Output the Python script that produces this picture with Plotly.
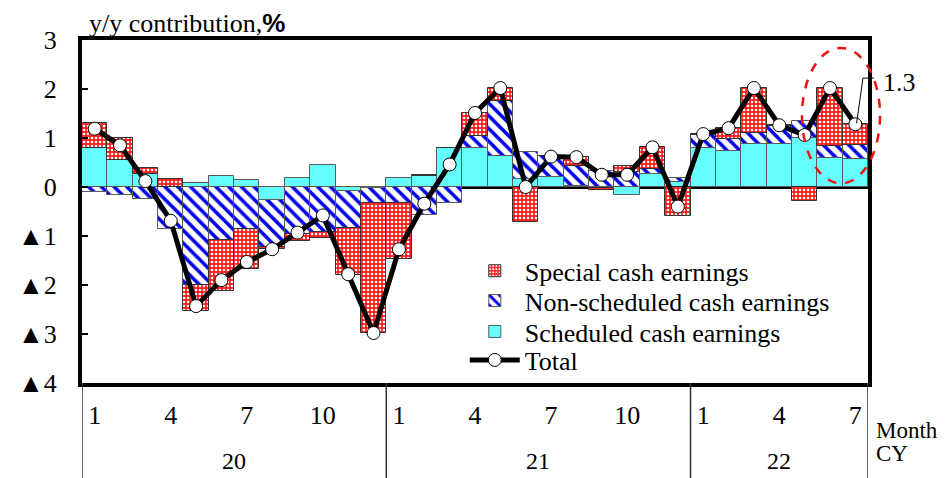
import plotly.graph_objects as go

# ---- data ----
month_idx = list(range(31))  # Jan 2020 .. Jul 2022
month_tick_vals = [0, 3, 6, 9, 12, 15, 18, 21, 24, 27, 30]
month_tick_text = ["1", "4", "7", "10", "1", "4", "7", "10", "1", "4", "7"]
years = ["20", "21", "22"]
y_tick_vals = [-4, -3, -2, -1, 0, 1, 2, 3]
y_tick_text = ["▲4", "▲3", "▲2", "▲1", "0", "1", "2", "3"]

scheduled = [0.80, 0.55, 0.26, 0.00, 0.08, 0.23, 0.14, -0.27, 0.18, 0.45, -0.09, -0.03,
             0.18, 0.23, 0.79, 0.80, 0.63, 0.16, 0.20, 0.02, -0.02, -0.17, 0.27, 0.10,
             0.80, 0.73, 0.87, 0.87, 0.99, 0.60, 0.58]
non_scheduled = [-0.11, -0.16, -0.25, -0.85, -1.99, -1.09, -0.85, -0.95, -0.95, -0.92, -0.74, -0.30,
                 -0.33, -0.57, -0.33, 0.24, 1.12, 0.56, 0.43, 0.41, 0.32, 0.30, 0.10, 0.09,
                 0.26, 0.25, 0.24, 0.38, 0.36, 0.24, 0.27]
special = [0.50, 0.46, 0.12, 0.16, -0.54, -1.04, -0.82, -0.05, -0.16, -0.12, -0.96, -2.65,
           -1.13, 0.01, 0.00, 0.48, 0.27, -0.72, 0.00, 0.18, -0.05, 0.12, 0.44, -0.60,
           0.02, 0.22, 0.92, 0.01, -0.29, 1.19, 0.43]
total = [1.19, 0.85, 0.12, -0.69, -2.43, -1.90, -1.53, -1.27, -0.93, -0.58, -1.78, -2.98,
         -1.27, -0.34, 0.46, 1.51, 2.02, 0.00, 0.62, 0.61, 0.25, 0.25, 0.81, -0.40,
         1.08, 1.20, 2.02, 1.26, 1.06, 2.02, 1.28]
last_label = "1.3"

SERIF = "Liberation Serif, Times New Roman, serif"
FS = 26

fig = go.Figure()

fig.add_trace(go.Bar(
    x=month_idx, y=scheduled, name="Scheduled cash earnings", legend="legend3",
    marker=dict(color="#66ffff", line=dict(color="#5a5a5a", width=1)),
))
fig.add_trace(go.Bar(
    x=month_idx, y=non_scheduled, name="Non-scheduled cash earnings", legend="legend2",
    marker=dict(color="#0000ee", line=dict(color="#5a5a5a", width=1),
                pattern=dict(shape="\\", fillmode="replace", fgcolor="#0000ee",
                             bgcolor="white", size=9, solidity=0.4)),
))
fig.add_trace(go.Bar(
    x=month_idx, y=special, name="Special cash earnings", legend="legend",
    marker=dict(color="#ff1a1a", line=dict(color="#333333", width=1),
                pattern=dict(shape=".", fillmode="replace", fgcolor="white",
                             bgcolor="#ff1a1a", size=4, solidity=0.35)),
))
fig.add_trace(go.Scatter(
    x=month_idx, y=total, name="Total", mode="lines+markers", legend="legend4",
    line=dict(color="black", width=5),
    marker=dict(symbol="circle", size=13, color="white", line=dict(color="black", width=1)),
))

legend_common = dict(x=0.487, xanchor="left", yanchor="middle", bgcolor="rgba(0,0,0,0)",
                     font=dict(family=SERIF, size=FS), itemwidth=50)
fig.update_layout(
    width=952, height=478,
    margin=dict(l=82, r=84, t=40, b=95),
    paper_bgcolor="white", plot_bgcolor="white",
    barmode="relative", bargap=0,
    font=dict(family=SERIF, size=FS, color="black"),
    showlegend=True,
    legend=dict(y=0.327, **legend_common),
    legend2=dict(y=0.240, **legend_common),
    legend3=dict(y=0.150, **legend_common),
    legend4=dict(y=0.067, **legend_common),
)

fig.update_xaxes(
    range=[-0.5, 30.5], tickmode="array", tickvals=month_tick_vals, ticktext=month_tick_text,
    ticks="", showgrid=False, zeroline=False,
    showline=True, linecolor="black", linewidth=4, mirror=True,
    tickfont=dict(family=SERIF, size=FS), ticklabelstandoff=6,
)
fig.update_yaxes(
    range=[-4, 3], tickmode="array", tickvals=y_tick_vals, ticktext=y_tick_text,
    ticks="inside", ticklen=6, tickwidth=1.5, tickcolor="black",
    showgrid=False, zeroline=True, zerolinecolor="black", zerolinewidth=2.5,
    showline=True, linecolor="black", linewidth=4, mirror=True,
    tickfont=dict(family=SERIF, size=FS), ticklabelstandoff=16,
)

# year separators below the axis
for xb in [-0.5, 11.5, 23.5, 30.5]:
    fig.add_shape(type="line", xref="x", yref="paper", x0=xb, x1=xb, y0=0, y1=-0.30,
                  line=dict(color="#333333", width=1.5), layer="above")

# year labels
year_centers = [5.5, 17.5, 27.0]
for yc, lab in zip(year_centers, years):
    fig.add_annotation(x=yc, y=-0.2274, xref="x", yref="paper", text=lab, showarrow=False,
                       font=dict(family=SERIF, size=24), yanchor="middle")

fig.add_annotation(x=1.007, y=-0.138, xref="paper", yref="paper", text="Month", showarrow=False,
                   xanchor="left", yanchor="middle", font=dict(family=SERIF, size=23))
fig.add_annotation(x=1.007, y=-0.205, xref="paper", yref="paper", text="CY", showarrow=False,
                   xanchor="left", yanchor="middle", font=dict(family=SERIF, size=23))

# axis unit label
fig.add_annotation(x=0.006, y=1.0, xref="paper", yref="paper",
                   text="y/y contribution,<b><span style='font-family:Liberation Sans, Arial, sans-serif'>%</span></b>",
                   showarrow=False, xanchor="left", yanchor="bottom",
                   font=dict(family=SERIF, size=FS))

# dashed ellipse highlight
fig.add_shape(type="circle", xref="paper", yref="paper", x0=0.916, x1=1.0153, y0=0.582, y1=0.977,
              line=dict(color="#ee1111", width=2.5, dash="dash"), layer="above")

# "1.3" callout with bent leader line
fig.add_shape(type="path", xref="paper", yref="paper",
              path="M 0.9855 0.757 L 0.9936 0.889 L 1.0076 0.889",
              line=dict(color="black", width=1), layer="above")
fig.add_annotation(x=1.0165, y=0.877, xref="paper", yref="paper", text=last_label,
                   showarrow=False, xanchor="left", yanchor="middle",
                   font=dict(family=SERIF, size=FS))

fig.write_html("out.html")
